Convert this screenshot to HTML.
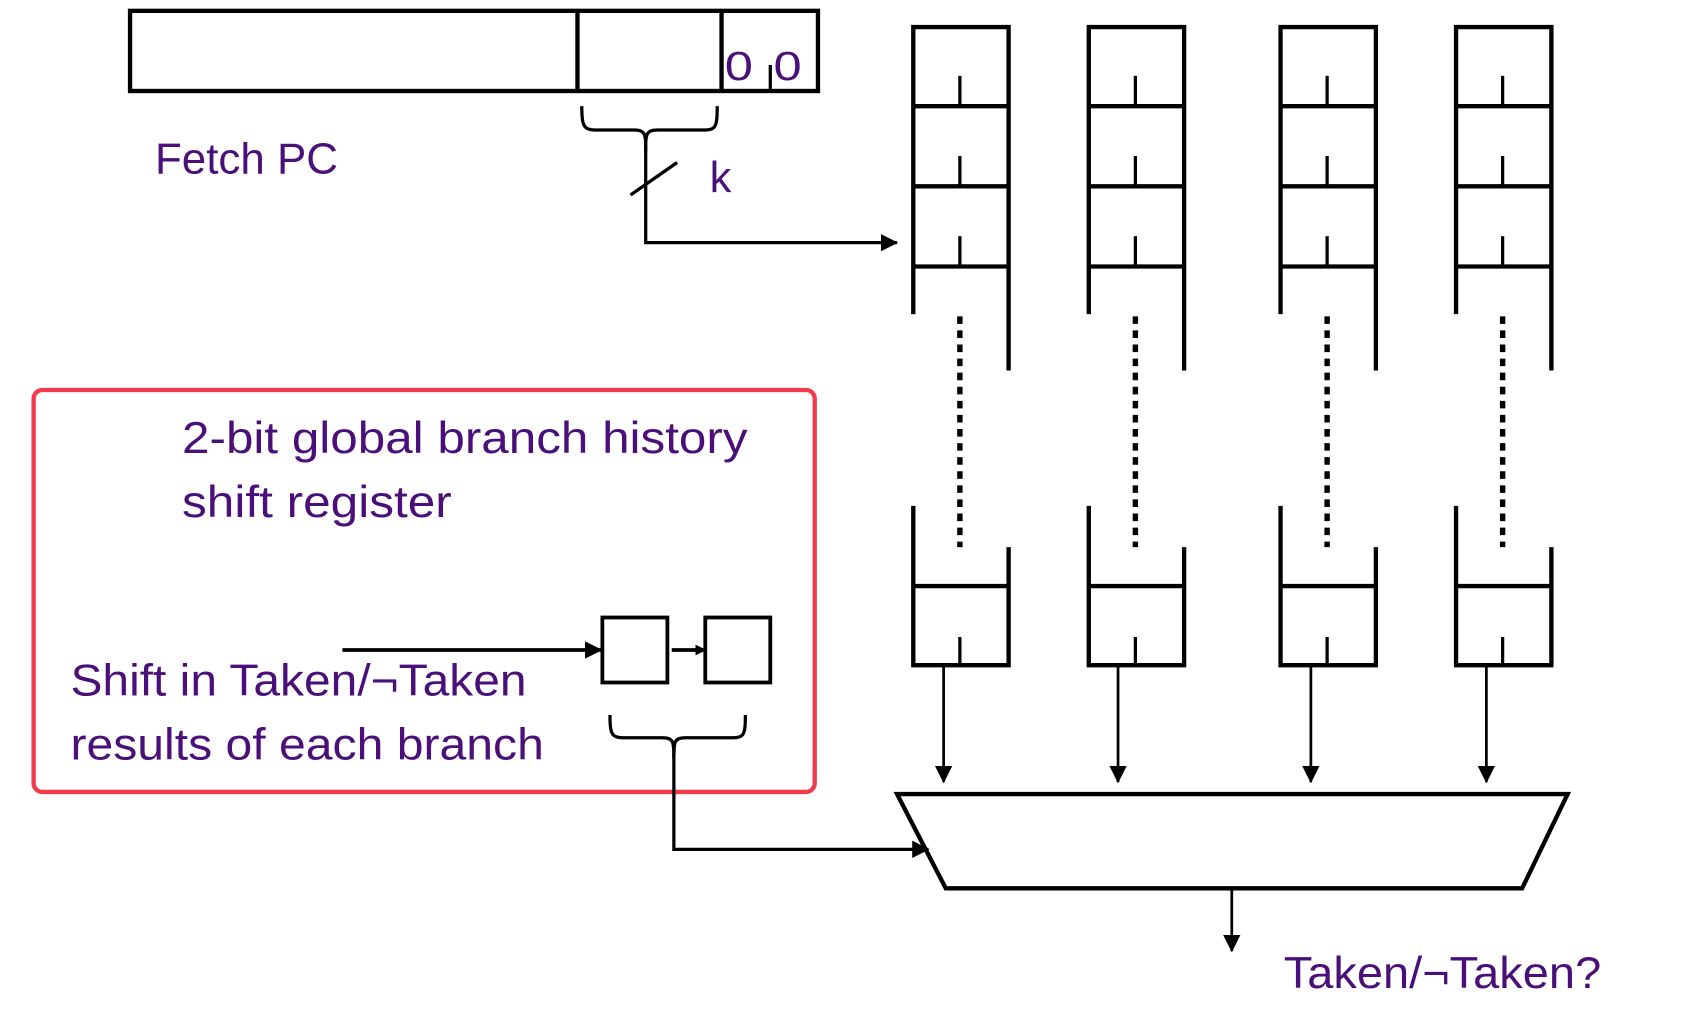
<!DOCTYPE html>
<html><head><meta charset="utf-8"><style>html,body{margin:0;padding:0;background:#fff}svg{display:block}</style></head>
<body>
<svg width="1702" height="1014" viewBox="0 0 1571 936" xmlns="http://www.w3.org/2000/svg">
<defs>
<marker id="a" markerWidth="10" markerHeight="10" refX="9" refY="5" orient="auto" markerUnits="userSpaceOnUse"><path d="M0,0 L10,5 L0,10 z" fill="#000"/></marker>
<marker id="b" markerWidth="16" markerHeight="16" refX="15" refY="8" orient="auto" markerUnits="userSpaceOnUse"><path d="M0,0 L16,8 L0,16 z" fill="#000"/></marker>
</defs>
<g fill="none" stroke="#000" stroke-width="4">
<rect x="120" y="10" width="635" height="74"/>
<line x1="533" y1="10" x2="533" y2="84"/>
<line x1="666" y1="10" x2="666" y2="84"/>
<line x1="711" y1="60" x2="711" y2="84" stroke-width="3"/>
<path d="M537,98 C537,122 540,120 560,120 L585,120 C596,120 596,124 596,140 C596,124 596,120 607,120 L640,120 C660,120 662,122 662,98" stroke-width="3"/>
<path d="M596,135 L596,224 L828,224" stroke-width="3" marker-end="url(#b)"/>
<line x1="582" y1="180" x2="625" y2="150" stroke-width="3"/>
</g>
<g fill="none" stroke="#000" stroke-width="4">
<g id="col">
<path d="M843,290 L843,25 L931,25 L931,342"/>
<line x1="843" y1="98" x2="931" y2="98"/>
<line x1="843" y1="172" x2="931" y2="172"/>
<line x1="843" y1="246" x2="931" y2="246"/>
<line x1="886" y1="70" x2="886" y2="98" stroke-width="3"/>
<line x1="886" y1="144" x2="886" y2="172" stroke-width="3"/>
<line x1="886" y1="218" x2="886" y2="246" stroke-width="3"/>
<line x1="886" y1="292" x2="886" y2="505" stroke-width="5" stroke-dasharray="7,6"/>
<path d="M843,467 L843,614 L931,614 L931,505"/>
<line x1="843" y1="541" x2="931" y2="541"/>
<line x1="886" y1="588" x2="886" y2="614" stroke-width="3"/>
</g>
<use href="#col" x="162"/>
<use href="#col" x="339"/>
<use href="#col" x="501"/>
</g>
<g stroke="#000" stroke-width="2.5" fill="none">
<line x1="871" y1="614" x2="871" y2="722" marker-end="url(#b)"/>
<line x1="1032" y1="614" x2="1032" y2="722" marker-end="url(#b)"/>
<line x1="1210" y1="614" x2="1210" y2="722" marker-end="url(#b)"/>
<line x1="1372" y1="614" x2="1372" y2="722" marker-end="url(#b)"/>
<line x1="1137" y1="820" x2="1137" y2="878" marker-end="url(#b)"/>
</g>
<path d="M828,733 L1447,733 L1405,820 L873,820 Z" fill="none" stroke="#000" stroke-width="4"/>
<rect x="31" y="360" width="721" height="371" rx="8" fill="none" stroke="#f23a4c" stroke-width="4"/>
<g fill="none" stroke="#000" stroke-width="3.5">
<rect x="556" y="570" width="60" height="60"/>
<rect x="651" y="570" width="60" height="60"/>
<line x1="316" y1="600" x2="555" y2="600" marker-end="url(#b)"/>
<line x1="620" y1="600" x2="651" y2="600" marker-end="url(#a)"/>
<path d="M563,660 C563,683 566,681 585,681 L611,681 C622,681 622,685 622,700 C622,685 622,681 633,681 L666,681 C686,681 688,683 688,660" stroke-width="3"/>
<path d="M622,695 L622,784 L857,784" stroke-width="3" marker-end="url(#b)"/>
</g>
<g font-family="Liberation Sans, sans-serif" fill="#4a0f78" font-size="40">
<text x="143" y="160" textLength="169" lengthAdjust="spacingAndGlyphs">Fetch PC</text>
<text x="655" y="177">k</text>
<text x="669" y="74" font-size="38" textLength="26" lengthAdjust="spacingAndGlyphs">0</text>
<text x="714" y="74" font-size="38" textLength="26" lengthAdjust="spacingAndGlyphs">0</text>
<text x="168" y="418" font-size="41" textLength="522" lengthAdjust="spacingAndGlyphs">2-bit global branch history</text>
<text x="168" y="477" font-size="41" textLength="249" lengthAdjust="spacingAndGlyphs">shift register</text>
<text x="65" y="642" font-size="41" textLength="421" lengthAdjust="spacingAndGlyphs">Shift in Taken/¬Taken</text>
<text x="65" y="701" font-size="41" textLength="437" lengthAdjust="spacingAndGlyphs">results of each branch</text>
<text x="1185" y="912" font-size="41" textLength="293" lengthAdjust="spacingAndGlyphs">Taken/¬Taken?</text>
</g>
</svg>
</body></html>
